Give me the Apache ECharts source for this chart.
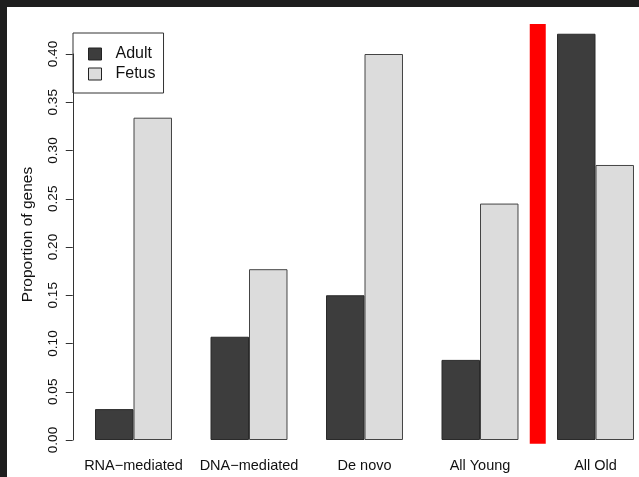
<!DOCTYPE html>
<html>
<head>
<meta charset="utf-8">
<script src="https://cdn.jsdelivr.net/npm/echarts@6/dist/echarts.min.js"></script>
<style>
  html, body { margin: 0; padding: 0; background: #1e1e1e; width: 639px; height: 477px; overflow: hidden; }
  #chart { position: absolute; left: 7px; top: 7px; width: 700px; height: 470px; background: #ffffff; }
</style>
</head>
<body>
<div id="chart"></div>
<script>
const categories = ['RNA\u2212mediated', 'DNA\u2212mediated', 'De novo', 'All Young', 'All Old'];
const adultValues = [0.032, 0.107, 0.150, 0.083, 0.421];
const fetusValues = [0.334, 0.177, 0.400, 0.245, 0.285];
const yTicks = [0.00, 0.05, 0.10, 0.15, 0.20, 0.25, 0.30, 0.35, 0.40];
const separatorAfter = 'All Young';
const separatorRange = [-0.004, 0.431];

const FONT = "'Liberation Sans', Arial, Helvetica, sans-serif";
const chart = echarts.init(document.getElementById('chart'), null, { renderer: 'canvas' });

chart.setOption({
  animation: false,
  backgroundColor: '#ffffff',
  textStyle: { fontFamily: FONT },
  grid: { left: 68.75, top: 47, width: 577.5, height: 386, containLabel: false },
  legend: {
    data: ['Adult', 'Fetus'],
    orient: 'vertical',
    left: 66, top: 26,
    borderColor: '#333333', borderWidth: 1,
    padding: [13, 8, 11, 15],
    itemWidth: 13, itemHeight: 12, itemGap: 4,
    icon: 'rect',
    itemStyle: { borderColor: '#222222', borderWidth: 1 },
    textStyle: { fontSize: 16, color: '#111111', fontFamily: FONT, padding: [0, 0, 0, 9] }
  },
  xAxis: {
    type: 'category',
    data: categories,
    axisLine: { show: false },
    axisTick: { show: false },
    axisLabel: { fontSize: 14.5, color: '#111111', margin: 18, fontFamily: FONT, interval: 0 }
  },
  yAxis: {
    type: 'value',
    min: yTicks[0], max: yTicks[yTicks.length - 1], interval: 0.05,
    offset: 3,
    name: 'Proportion of genes',
    nameLocation: 'middle',
    nameRotate: 90,
    nameGap: 37,
    nameTextStyle: { fontSize: 15.5, color: '#111111', fontFamily: FONT, padding: [0, 0, 0, 25] },
    axisLine: { show: true, lineStyle: { color: '#333333', width: 1 } },
    axisTick: { show: true, length: 7, lineStyle: { color: '#333333', width: 1 } },
    axisLabel: { rotate: 90, fontSize: 13.5, color: '#111111', margin: 12, fontFamily: FONT,
      formatter: v => v.toFixed(2) },
    splitLine: { show: false }
  },
  series: [
    {
      name: 'Adult', type: 'bar', data: adultValues,
      barWidth: '33.333%', barGap: '0%', clip: false,
      itemStyle: { color: '#3d3d3d', borderColor: '#2a2a2a', borderWidth: 1 }
    },
    {
      name: 'Fetus', type: 'bar', data: fetusValues,
      barWidth: '33.333%', barGap: '0%', clip: false,
      itemStyle: { color: '#dcdcdc', borderColor: '#444444', borderWidth: 1 }
    },
    {
      name: 'separator', type: 'custom', clip: false, silent: true,
      data: [[categories.indexOf(separatorAfter), separatorRange[0], separatorRange[1]]],
      renderItem: function (params, api) {
        const idx = api.value(0);
        const top = api.coord([idx, api.value(2)]);
        const bot = api.coord([idx, api.value(1)]);
        const half = api.size([1, 0])[0] / 2;
        const x = top[0] + half;
        return {
          type: 'rect',
          shape: { x: x - 8, y: top[1], width: 16, height: bot[1] - top[1] },
          style: { fill: '#ff0000' }
        };
      }
    }
  ]
});
</script>
</body>
</html>
